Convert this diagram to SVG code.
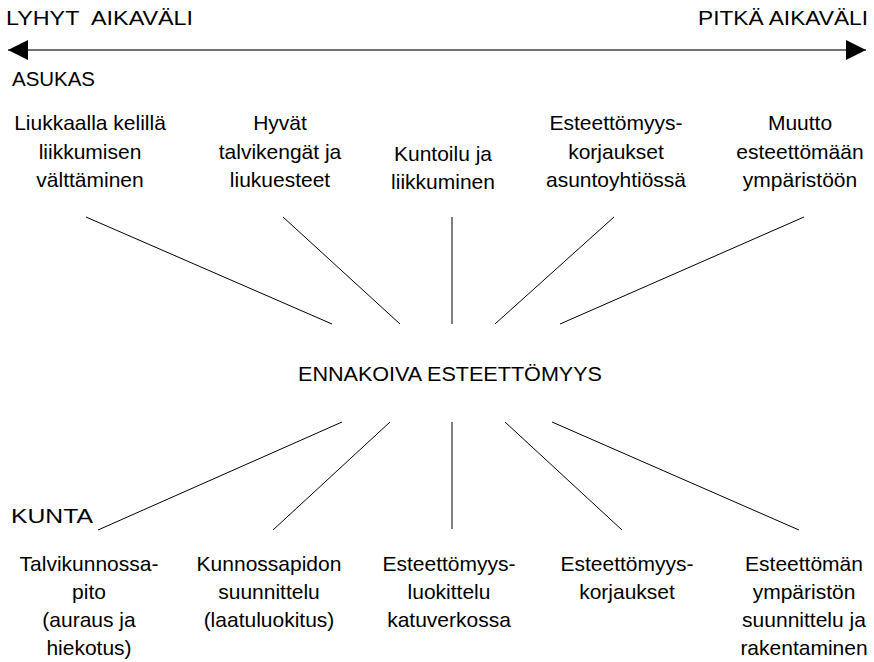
<svg xmlns="http://www.w3.org/2000/svg" width="874" height="662" viewBox="0 0 874 662">
  <style>
    text { font-family: "Liberation Sans", Arial, sans-serif; font-size: 21px; fill: #000; }
    .c { text-anchor: middle; }
    .link { stroke: #000; stroke-width: 1; fill: none; }
    .axis { stroke: #444; stroke-width: 1.5; fill: none; }
  </style>
  <defs>
    <marker id="headEnd" viewBox="0 0 20 20" refX="20" refY="10" markerWidth="20" markerHeight="20" markerUnits="userSpaceOnUse" orient="auto">
      <path d="M0,0 L20,10 L0,20 Z" fill="#000"/>
    </marker>
    <marker id="headStart" viewBox="0 0 20 20" refX="0" refY="10" markerWidth="20" markerHeight="20" markerUnits="userSpaceOnUse" orient="auto">
      <path d="M20,0 L0,10 L20,20 Z" fill="#000"/>
    </marker>
  </defs>
  <rect width="874" height="662" fill="#fff"/>

  <!-- time axis -->
  <g id="axis">
    <text x="6" y="25" textLength="187" lengthAdjust="spacingAndGlyphs">LYHYT&#160; AIKAVÄLI</text>
    <text x="698" y="25" textLength="170" lengthAdjust="spacingAndGlyphs">PITKÄ AIKAVÄLI</text>
    <line class="axis" x1="8" y1="50" x2="866" y2="50" marker-start="url(#headStart)" marker-end="url(#headEnd)"/>
  </g>

  <g id="label-asukas"><text x="12" y="86" textLength="83" lengthAdjust="spacingAndGlyphs">ASUKAS</text></g>
  <g id="label-kunta"><text x="11" y="523" textLength="82" lengthAdjust="spacingAndGlyphs">KUNTA</text></g>

  <!-- resident measures -->
  <g id="a1"><text class="c" x="90" y="130">Liukkaalla kelillä<tspan x="90" dy="29">liikkumisen</tspan><tspan x="90" dy="28">välttäminen</tspan></text></g>
  <g id="a2"><text class="c" x="280" y="130">Hyvät<tspan x="280" dy="29">talvikengät ja</tspan><tspan x="280" dy="28">liukuesteet</tspan></text></g>
  <g id="a3"><text class="c" x="443" y="161">Kuntoilu ja<tspan x="443" dy="28">liikkuminen</tspan></text></g>
  <g id="a4"><text class="c" x="616" y="130">Esteettömyys-<tspan x="616" dy="29">korjaukset</tspan><tspan x="616" dy="28">asuntoyhtiössä</tspan></text></g>
  <g id="a5"><text class="c" x="800" y="130">Muutto<tspan x="800" dy="29">esteettömään</tspan><tspan x="800" dy="28">ympäristöön</tspan></text></g>

  <!-- central theme -->
  <g id="center"><text class="c" x="450" y="381" textLength="304" lengthAdjust="spacingAndGlyphs">ENNAKOIVA ESTEETTÖMYYS</text></g>

  <!-- municipal measures -->
  <g id="k1"><text class="c" x="89" y="571">Talvikunnossa-<tspan x="89" dy="28">pito</tspan><tspan x="89" dy="28">(auraus ja</tspan><tspan x="89" dy="28">hiekotus)</tspan></text></g>
  <g id="k2"><text class="c" x="269" y="571">Kunnossapidon<tspan x="269" dy="28">suunnittelu</tspan><tspan x="269" dy="28">(laatuluokitus)</tspan></text></g>
  <g id="k3"><text class="c" x="449" y="571">Esteettömyys-<tspan x="449" dy="28">luokittelu</tspan><tspan x="449" dy="28">katuverkossa</tspan></text></g>
  <g id="k4"><text class="c" x="627" y="571">Esteettömyys-<tspan x="627" dy="28">korjaukset</tspan></text></g>
  <g id="k5"><text class="c" x="804" y="571">Esteettömän<tspan x="804" dy="28">ympäristön</tspan><tspan x="804" dy="28">suunnittelu ja</tspan><tspan x="804" dy="28">rakentaminen</tspan></text></g>

  <!-- connectors -->
  <g id="connectors">
    <line class="link" x1="86" y1="217" x2="332" y2="324"/>
    <line class="link" x1="283" y1="217" x2="400" y2="324"/>
    <line class="link" x1="452" y1="217" x2="452" y2="324"/>
    <line class="link" x1="614" y1="217" x2="495" y2="324"/>
    <line class="link" x1="804" y1="217" x2="560" y2="324"/>
    <line class="link" x1="342" y1="422" x2="98" y2="530"/>
    <line class="link" x1="390" y1="422" x2="273" y2="530"/>
    <line class="link" x1="452" y1="422" x2="452" y2="529"/>
    <line class="link" x1="505" y1="422" x2="622" y2="530"/>
    <line class="link" x1="552" y1="422" x2="799" y2="530"/>
  </g>
</svg>
